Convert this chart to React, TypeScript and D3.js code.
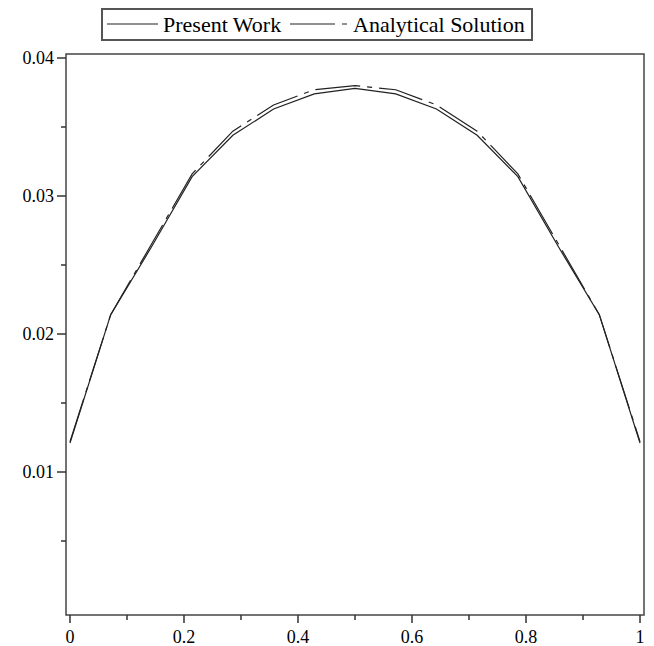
import React, { useEffect, useRef } from "react"
import * as d3 from "d3"

// values, x = k/14
const xValues = [0, 1 / 14, 2 / 14, 3 / 14, 4 / 14, 5 / 14, 6 / 14, 0.5, 8 / 14, 9 / 14, 10 / 14, 11 / 14, 12 / 14, 13 / 14, 1]
const presentWork = [0.0121, 0.0214, 0.0263, 0.0314, 0.0344, 0.0363, 0.0374, 0.0378, 0.0374, 0.0363, 0.0344, 0.0314, 0.0263, 0.0214, 0.0121]
const analytical = [0.0122, 0.0214, 0.0265, 0.0316, 0.0347, 0.0366, 0.0377, 0.0380, 0.0377, 0.0366, 0.0347, 0.0316, 0.0265, 0.0214, 0.0122]
const xTicks = [0, 0.2, 0.4, 0.6, 0.8, 1]
const xTickLabels = ["0", "0.2", "0.4", "0.6", "0.8", "1"]
const xMinor = [0.1, 0.3, 0.5, 0.7, 0.9]
const yTicks = [0.01, 0.02, 0.03, 0.04]
const yTickLabels = ["0.01", "0.02", "0.03", "0.04"]
const yMinor = [0.005, 0.015, 0.025, 0.035]
const legendLabels = ["Present Work", "Analytical Solution"]

const dash = "45 7 5 7"

export default function App() {
  const ref = useRef<SVGSVGElement>(null)

  useEffect(() => {
    const svg = d3.select(ref.current)
    svg.selectAll("*").remove()

    const left = 66, right = 644, top = 54, bottom = 615
    const x = d3.scaleLinear().domain([-0.007, 1.007]).range([left, right])
    const y = d3.scaleLinear().domain([-0.000362, 0.04029]).range([bottom, top])

    const font = "'Liberation Serif', 'Times New Roman', serif"

    // frame
    svg.append("rect")
      .attr("x", left).attr("y", top)
      .attr("width", right - left).attr("height", bottom - top)
      .attr("fill", "none").attr("stroke", "#444").attr("stroke-width", 1.5)

    // x ticks
    const xg = svg.append("g")
    xg.selectAll("line.maj").data(xTicks).enter().append("line")
      .attr("x1", d => x(d)).attr("x2", d => x(d))
      .attr("y1", bottom).attr("y2", bottom + 8)
      .attr("stroke", "#333").attr("stroke-width", 1.5)
    xg.selectAll("line.min").data(xMinor).enter().append("line")
      .attr("x1", d => x(d)).attr("x2", d => x(d))
      .attr("y1", bottom).attr("y2", bottom + 5)
      .attr("stroke", "#333").attr("stroke-width", 1.5)
    xg.selectAll("text").data(xTicks).enter().append("text")
      .attr("x", d => x(d)).attr("y", bottom + 28)
      .attr("text-anchor", "middle")
      .style("font-family", font).style("font-size", "18px")
      .text((d, i) => xTickLabels[i])

    // y ticks
    const yg = svg.append("g")
    yg.selectAll("line.maj").data(yTicks).enter().append("line")
      .attr("x1", left - 9).attr("x2", left)
      .attr("y1", d => y(d)).attr("y2", d => y(d))
      .attr("stroke", "#333").attr("stroke-width", 1.5)
    yg.selectAll("line.min").data(yMinor).enter().append("line")
      .attr("x1", left - 5).attr("x2", left)
      .attr("y1", d => y(d)).attr("y2", d => y(d))
      .attr("stroke", "#333").attr("stroke-width", 1.5)
    yg.selectAll("text").data(yTicks).enter().append("text")
      .attr("x", left - 12).attr("y", d => y(d) + 6)
      .attr("text-anchor", "end")
      .style("font-family", font).style("font-size", "18px")
      .text((d, i) => yTickLabels[i])

    const line = d3.line<number>()
      .x((d, i) => x(xValues[i]))
      .y(d => y(d))

    svg.append("path").datum(analytical)
      .attr("d", line)
      .attr("fill", "none").attr("stroke", "#222").attr("stroke-width", 1.2)
      .attr("stroke-dasharray", dash)
    svg.append("path").datum(presentWork)
      .attr("d", line)
      .attr("fill", "none").attr("stroke", "#222").attr("stroke-width", 1.2)

    // legend
    const lg = svg.append("g")
    lg.append("rect")
      .attr("x", 102).attr("y", 9).attr("width", 430).attr("height", 31)
      .attr("fill", "white").attr("stroke", "#555").attr("stroke-width", 2)
    lg.append("line")
      .attr("x1", 107).attr("x2", 158).attr("y1", 24).attr("y2", 24)
      .attr("stroke", "#222").attr("stroke-width", 1.2)
    lg.append("text")
      .attr("x", 163).attr("y", 32)
      .style("font-family", font).style("font-size", "22px")
      .text(legendLabels[0])
    lg.append("line")
      .attr("x1", 290).attr("x2", 348).attr("y1", 24).attr("y2", 24)
      .attr("stroke", "#222").attr("stroke-width", 1.2)
      .attr("stroke-dasharray", dash)
    lg.append("text")
      .attr("x", 353).attr("y", 32)
      .style("font-family", font).style("font-size", "22px")
      .text(legendLabels[1])
  }, [])

  return (
    <svg ref={ref} width={654} height={646}
      style={{ position: "absolute", left: 0, top: 0, background: "white" }} />
  )
}
